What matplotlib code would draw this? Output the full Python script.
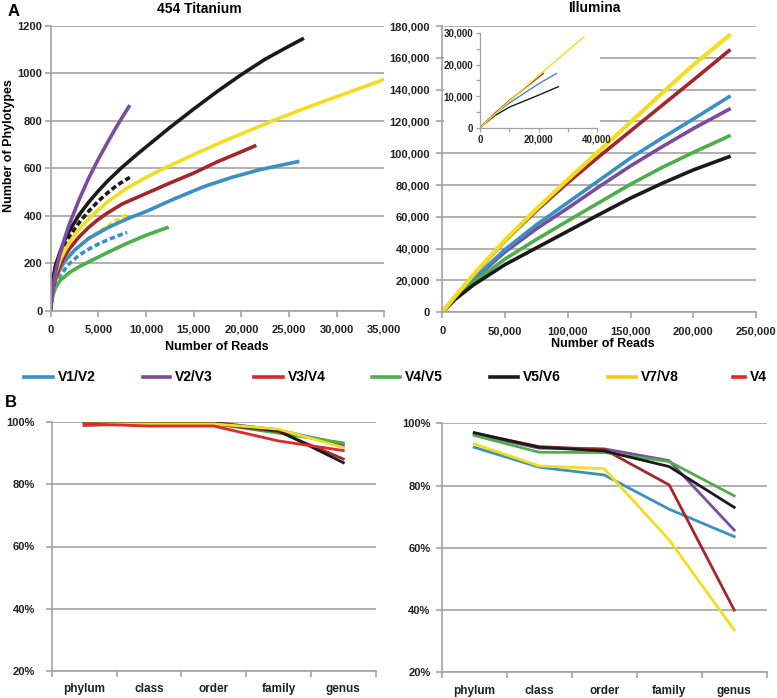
import matplotlib
matplotlib.use("Agg")
import matplotlib.pyplot as plt
from matplotlib.lines import Line2D
from matplotlib.patches import Rectangle
from matplotlib.ticker import FuncFormatter

plt.rcParams['font.family'] = ['Liberation Sans', 'DejaVu Sans']
plt.rcParams['font.weight'] = 'bold'

W, H = 777, 698

# colours
c_blue = '#3A8FC7'
c_purple = '#7B4C9E'
c_darkred = '#A4262B'
c_red = '#E3262C'
c_green = '#4DAE4A'
c_black = '#1A1A1A'
c_yellow = '#F2DE1F'
grid_c = '#A3A3A3'

# ---- A, 454 Titanium (reads vs phylotypes) ----
t_v12_x = [0, 100, 250, 500, 1000, 1500, 2500, 4000, 6000, 8000, 10000, 13000, 16000, 19000, 22000, 25900]
t_v12_y = [0, 55, 92, 132, 178, 210, 255, 305, 350, 387, 418, 472, 522, 562, 595, 628]
t_v23_x = [0, 100, 250, 500, 1000, 1500, 2000, 3000, 4000, 5000, 6000, 7000, 8200]
t_v23_y = [0, 65, 106, 162, 243, 310, 369, 470, 560, 639, 712, 782, 860]
t_v34_x = [0, 100, 250, 500, 1000, 1500, 2000, 3000, 4000, 5000, 6000, 7500, 10000, 12500, 15000, 17500, 20000, 21400]
t_v34_y = [0, 62, 95, 138, 193, 232, 263, 312, 352, 385, 413, 450, 494, 538, 580, 628, 670, 694]
t_v45_x = [0, 100, 250, 500, 1000, 2000, 3000, 4300, 6000, 8000, 10000, 12200]
t_v45_y = [0, 40, 68, 97, 128, 162, 186, 212, 246, 284, 318, 350]
t_v56_x = [0, 100, 250, 500, 1000, 1500, 2000, 3000, 4000, 5000, 6000, 7500, 9000, 10000,
           12500, 15000, 17500, 20000, 22500, 25000, 26400]
t_v56_y = [0, 85, 135, 190, 250, 300, 340, 405, 458, 505, 548, 605, 657, 690,
           772, 850, 925, 995, 1060, 1115, 1145]
t_v78_x = [0, 100, 250, 500, 1000, 1500, 2000, 3000, 4300, 6000, 8000, 10000, 12000, 15000,
           18000, 21000, 24000, 27000, 30000, 35000]
t_v78_y = [0, 70, 110, 158, 215, 255, 290, 345, 400, 460, 517, 562, 602, 658,
           712, 762, 812, 858, 902, 975]
# dashed (subsampled) runs
d_v56_x = [0, 250, 500, 1000, 2000, 3000, 4000, 5000, 6000, 7000, 8300]
d_v56_y = [0, 130, 185, 240, 315, 372, 420, 462, 498, 530, 562]
d_v78_x = [0, 250, 500, 1000, 2000, 3000, 4000, 5000, 6000, 7000, 8150]
d_v78_y = [0, 95, 130, 175, 235, 275, 305, 332, 357, 382, 408]
d_v12_x = [0, 250, 500, 1000, 2000, 3000, 4000, 5000, 6000, 7000, 8000]
d_v12_y = [0, 80, 110, 150, 200, 235, 260, 281, 299, 315, 330]

# ---- A, Illumina ----
il_x = [0, 10000, 25000, 50000, 75000, 100000, 125000, 150000, 175000, 200000, 228500]
il_v78 = [0, 9800, 23800, 45500, 65000, 83500, 101500, 119500, 137800, 155500, 174000]
il_v34 = [0, 9700, 23500, 45000, 64000, 81500, 98000, 114000, 130000, 146000, 164500]
il_v12 = [0, 9200, 21000, 39500, 55000, 69000, 83000, 97000, 109500, 121500, 135500]
il_v23 = [0, 9000, 20500, 38000, 52500, 65500, 79000, 92000, 104000, 115500, 127600]
il_v45 = [0, 8500, 18800, 33500, 45800, 57500, 69000, 80500, 91000, 100500, 110800]
il_v56 = [0, 8000, 17300, 30000, 40500, 51000, 61500, 71800, 81000, 89500, 97800]

# inset (zoom on first 40,000 reads)
in_v78_x = [0, 10000, 20000, 35500]
in_v78_y = [0, 8400, 16500, 28800]
in_v34_x = [0, 5000, 10000, 21650]
in_v34_y = [0, 4500, 8600, 17200]
in_v12_x = [0, 5000, 10000, 20000, 26200]
in_v12_y = [0, 4300, 7800, 13900, 17200]
in_v56_x = [0, 5000, 10000, 20000, 26800]
in_v56_y = [0, 3800, 6500, 10300, 13000]

# ---- B, classification agreement ----
ranks = ['phylum', 'class', 'order', 'family', 'genus']
b454_v12 = [100, 100, 100, 97.5, 93.0]
b454_v23 = [100, 100, 100, 97.5, 92.4]
b454_v34 = [99.0, 99.5, 99.5, 97.0, 88.2]
b454_v45 = [99.8, 99.5, 99.5, 96.5, 93.4]
b454_v56 = [100, 100, 99.8, 97.3, 87.0]
b454_v78 = [99.5, 99.5, 99.5, 97.8, 91.9]
b454_v4 = [99.5, 98.8, 98.8, 94.0, 90.9]

bil_v12 = [92.3, 85.9, 83.4, 72.4, 63.6]
bil_v23 = [96.5, 92.0, 91.8, 88.0, 65.7]
bil_v34 = [96.8, 92.5, 91.6, 80.2, 40.0]
bil_v45 = [96.1, 90.7, 90.6, 87.7, 76.7]
bil_v56 = [97.0, 92.3, 91.1, 86.1, 73.0]
bil_v78 = [93.4, 86.3, 85.4, 62.5, 33.6]

legend_names = ['V1/V2', 'V2/V3', 'V3/V4', 'V4/V5', 'V5/V6', 'V7/V8', 'V4']
legend_cols = [c_blue, c_purple, '#D5282D', c_green, c_black, '#F4C823', c_red]


def px_axes(fig, x0, x1, y_top, y_bot):
    return fig.add_axes([x0 / W, 1 - y_bot / H, (x1 - x0) / W, (y_bot - y_top) / H])


def excel_style(ax, tick_fs=8):
    for s in ['top', 'right']:
        ax.spines[s].set_visible(False)
    for s in ['left', 'bottom']:
        ax.spines[s].set_color(grid_c)
        ax.spines[s].set_linewidth(1.2)
    ax.set_axisbelow(True)
    ax.yaxis.grid(True, color=grid_c, linewidth=1.2)
    ax.tick_params(colors=grid_c, length=4, width=1.2, labelcolor='#222222', labelsize=tick_fs)


def bold_ticks(ax):
    for lab in ax.get_xticklabels() + ax.get_yticklabels():
        lab.set_fontweight('bold')


comma = FuncFormatter(lambda v, p: '{:,.0f}'.format(v))

fig = plt.figure(figsize=(W / 100, H / 100), dpi=100)

# ---------- A left ----------
ax = px_axes(fig, 50.7, 384.3, 26, 310.7)
lw = 2.6
dash = (0, (1.5, 0.8))
ax.plot(d_v12_x, d_v12_y, color=c_blue, lw=lw, ls=dash)
ax.plot(d_v78_x, d_v78_y, color=c_yellow, lw=lw, ls=dash)
ax.plot(d_v56_x, d_v56_y, color=c_black, lw=lw, ls=dash)
ax.plot(t_v45_x, t_v45_y, color=c_green, lw=lw)
ax.plot(t_v12_x, t_v12_y, color=c_blue, lw=lw)
ax.plot(t_v34_x, t_v34_y, color=c_darkred, lw=lw)
ax.plot(t_v78_x, t_v78_y, color=c_yellow, lw=lw)
ax.plot(t_v56_x, t_v56_y, color=c_black, lw=lw)
ax.plot(t_v23_x, t_v23_y, color=c_purple, lw=lw)
ax.set_xlim(0, 35000)
ax.set_ylim(0, 1200)
ax.set_xticks(range(0, 35001, 5000))
ax.set_yticks(range(0, 1201, 200))
ax.xaxis.set_major_formatter(comma)
excel_style(ax)
ax.tick_params(axis='x', pad=6)
ax.tick_params(axis='y', pad=2)
bold_ticks(ax)

# ---------- A right ----------
ax2 = px_axes(fig, 442.3, 756, 26, 312.3)
ax2.add_patch(Rectangle((0.004, 0.6), 0.5, 0.385, transform=ax2.transAxes,
                        facecolor='white', edgecolor='none', zorder=1))
ax2.plot(il_x, il_v23, color=c_purple, lw=lw, zorder=2)
ax2.plot(il_x, il_v12, color=c_blue, lw=lw, zorder=2)
ax2.plot(il_x, il_v45, color=c_green, lw=lw, zorder=2)
ax2.plot(il_x, il_v56, color=c_black, lw=lw, zorder=2)
ax2.plot(il_x, il_v34, color=c_darkred, lw=lw, zorder=2)
ax2.plot(il_x, il_v78, color=c_yellow, lw=lw + 0.4, zorder=2)
ax2.set_xlim(0, 250000)
ax2.set_ylim(0, 180000)
ax2.set_xticks(range(0, 250001, 50000))
ax2.set_yticks(range(0, 180001, 20000))
ax2.xaxis.set_major_formatter(comma)
ax2.yaxis.set_major_formatter(comma)
excel_style(ax2)
ax2.tick_params(axis='x', pad=6)
ax2.tick_params(axis='y', pad=5)
bold_ticks(ax2)

# inset
ins = px_axes(fig, 480, 597, 33, 127.7)
ins.plot(in_v56_x, in_v56_y, color=c_black, lw=1.0)
ins.plot(in_v12_x, in_v12_y, color=c_blue, lw=1.0)
ins.plot(in_v34_x, in_v34_y, color=c_darkred, lw=1.0)
ins.plot(in_v78_x, in_v78_y, color=c_yellow, lw=1.0)
ins.set_xlim(0, 40000)
ins.set_ylim(0, 30000)
ins.set_xticks([0, 20000, 40000])
ins.set_xticks([10000, 30000], minor=True)
ins.set_yticks([0, 10000, 20000, 30000])
ins.set_yticks([5000, 15000, 25000], minor=True)
ins.xaxis.set_major_formatter(comma)
ins.yaxis.set_major_formatter(comma)
for s in ['top', 'right']:
    ins.spines[s].set_visible(False)
for s in ['left', 'bottom']:
    ins.spines[s].set_color(grid_c)
    ins.spines[s].set_linewidth(0.9)
ins.tick_params(which='both', colors=grid_c, length=3, width=0.9, labelcolor='#222222',
                labelsize=7, pad=2)
bold_ticks(ins)

# ---------- B left ----------
pos = list(range(len(ranks)))
bl = px_axes(fig, 51.7, 375.7, 422.3, 670.7)
blw = 2.0
bl.plot(pos, b454_v12, color=c_blue, lw=blw)
bl.plot(pos, b454_v23, color=c_purple, lw=blw)
bl.plot(pos, b454_v45, color=c_green, lw=blw)
bl.plot(pos, b454_v34, color=c_darkred, lw=blw)
bl.plot(pos, b454_v56, color=c_black, lw=blw)
bl.plot(pos, b454_v78, color=c_yellow, lw=blw)
bl.plot(pos, b454_v4, color=c_red, lw=blw)

# ---------- B right ----------
br = px_axes(fig, 441.7, 766.7, 423.3, 672.3)
br.plot(pos, bil_v12, color=c_blue, lw=blw)
br.plot(pos, bil_v23, color=c_purple, lw=blw)
br.plot(pos, bil_v34, color=c_darkred, lw=blw)
br.plot(pos, bil_v45, color=c_green, lw=blw)
br.plot(pos, bil_v56, color=c_black, lw=blw)
br.plot(pos, bil_v78, color=c_yellow, lw=blw)

for a, pad in [(bl, 8), (br, 4)]:
    a.set_xlim(-0.5, len(ranks) - 0.5)
    a.set_ylim(20, 100)
    a.set_yticks([20, 40, 60, 80, 100])
    a.set_yticklabels(['20%', '40%', '60%', '80%', '100%'])
    a.set_xticks(pos)
    a.set_xticklabels(ranks)
    a.set_xticks([p - 0.5 for p in range(len(ranks) + 1)], minor=True)
    excel_style(a)
    a.tick_params(axis='x', which='major', length=0, pad=9, labelsize=8.5)
    a.tick_params(axis='x', which='minor', length=4, width=1.2, color=grid_c)
    a.tick_params(axis='y', length=4, pad=pad)
    bold_ticks(a)

# ---------- texts ----------
fig.text(8 / W, 1 - 11 / H, 'A', fontsize=12, fontweight='bold', va='center', ha='left')
fig.text(5 / W, 1 - 403 / H, 'B', fontsize=12, fontweight='bold', va='center', ha='left')
fig.text(199 / W, 1 - 9 / H, '454 Titanium', fontsize=10, fontweight='bold', ha='center', va='center')
fig.text(594 / W, 1 - 8 / H, 'Illumina', fontsize=10, fontweight='bold', ha='center', va='center')
fig.text(9 / W, 1 - 146 / H, 'Number of Phylotypes', fontsize=9, fontweight='bold',
         rotation=90, ha='center', va='center')
fig.text(217 / W, 1 - 347 / H, 'Number of Reads', fontsize=9, fontweight='bold', ha='center', va='center')
fig.text(603 / W, 1 - 344 / H, 'Number of Reads', fontsize=9, fontweight='bold', ha='center', va='center')

# legend row
leg_lines = [(24, 53), (143, 170), (254, 283), (372, 400), (490, 518), (608, 636), (733, 745)]
leg_y = 1 - 377 / H
for (x0, x1), name, col in zip(leg_lines, legend_names, legend_cols):
    fig.add_artist(Line2D([x0 / W, x1 / W], [leg_y, leg_y], color=col, lw=2.6,
                          transform=fig.transFigure))
    fig.text((x1 + 5) / W, leg_y, name, fontsize=10, fontweight='bold', ha='left', va='center')

fig.savefig('out.png', dpi=100, facecolor='white')
